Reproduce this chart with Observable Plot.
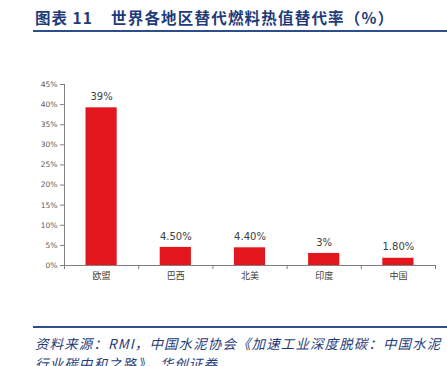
<!DOCTYPE html>
<html><head><meta charset="utf-8">
<script src="https://cdn.jsdelivr.net/npm/d3@7"></script>
<script src="https://cdn.jsdelivr.net/npm/@observablehq/plot@0.6"></script>
<style>
body{margin:0;background:#fff;width:447px;height:366px;overflow:hidden;position:relative;}
#title{position:absolute;left:35px;top:6px;font-family:"Noto Sans CJK SC";font-weight:bold;font-size:15.5px;color:#1f3c7a;white-space:nowrap;}
#title .t1{letter-spacing:1px;}
#title .t2{position:absolute;left:76px;top:0;letter-spacing:1.2px;}
#tline{position:absolute;left:33px;top:30px;width:414px;height:2px;background:#2d4e8e;}
#chart{position:absolute;left:0;top:40px;}
#bline{position:absolute;left:33px;top:326px;width:414px;height:1.5px;background:#2d4e8e;}
#src{position:absolute;left:35px;top:333px;font-family:"Noto Sans CJK SC";font-style:italic;font-size:13.5px;line-height:20px;color:#1f3c7a;letter-spacing:1.1px;white-space:nowrap;}
</style></head><body>
<div id="title"><span class="t1">图表 11</span><span class="t2">世界各地区替代燃料热值替代率（%）</span></div>
<div id="tline"></div>
<div id="chart"></div>
<div id="bline"></div>
<div id="src">资料来源：RMI，中国水泥协会《加速工业深度脱碳：中国水泥<br>行业碳中和之路》，华创证券</div>
<script>
const categories = ["欧盟", "巴西", "北美", "印度", "中国"];
const values = [39.2, 4.5, 4.4, 3.0, 1.8];
const valueLabels = ["39%", "4.50%", "4.40%", "3%", "1.80%"];
const yTicks = [0, 5, 10, 15, 20, 25, 30, 35, 40, 45];

const data = categories.map((c, i) => ({i, c, v: values[i], label: valueLabels[i]}));
const idx = d3.range(categories.length);

const chart = Plot.plot({
  width: 447,
  height: 286,
  marginTop: 44,
  marginBottom: 61,
  marginLeft: 64,
  marginRight: 12,
  style: {fontFamily: "DejaVu Sans", background: "transparent"},
  x: {type: "linear", domain: [0, categories.length], axis: null},
  y: {domain: [0, 45], axis: null},
  marks: [
    Plot.rectY(data, {x1: "i", x2: d => d.i + 1, y: "v", fill: "#e3161e", insetLeft: 21.5, insetRight: 21.5}),
    Plot.text(data, {x: d => d.i + 0.5, y: "v", text: "label", dy: -11, fontSize: 10, fill: "#404040", fontFamily: "DejaVu Sans"}),
    Plot.axisY(yTicks, {label: null, tickSize: 4, tickPadding: 3, tickFormat: d => d + "%", fontSize: 7.5, fill: "#595959", stroke: "#808080", fontFamily: "DejaVu Sans"}),
    Plot.axisX(d3.range(categories.length + 1), {label: null, tickSize: 4, tickFormat: () => "", stroke: "#808080"}),
    Plot.axisX(idx.map(i => i + 0.5), {label: null, tickSize: 0, tickPadding: 7, tickFormat: d => categories[Math.floor(d)], fontSize: 9, fill: "#404040", fontFamily: "Noto Sans CJK SC"}),
    Plot.frame({anchor: "left", stroke: "#808080"}),
    Plot.frame({anchor: "bottom", stroke: "#808080"})
  ]
});
document.getElementById("chart").appendChild(chart);
</script>
</body></html>
